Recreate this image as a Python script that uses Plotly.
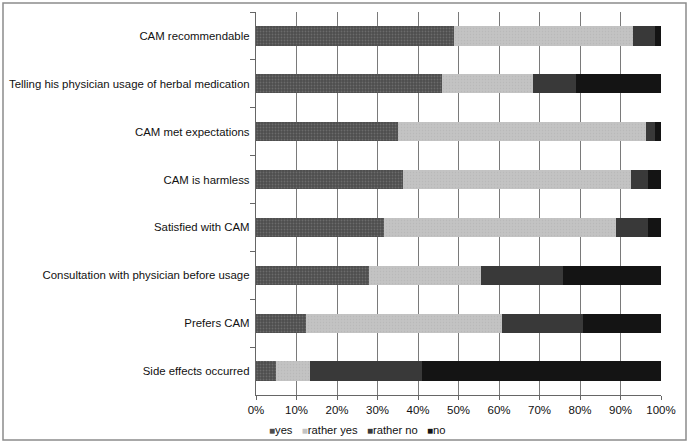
import plotly.graph_objects as go

categories = [
    "CAM recommendable",
    "Telling his physician usage of herbal medication",
    "CAM met expectations",
    "CAM is harmless",
    "Satisfied with CAM",
    "Consultation with physician before usage",
    "Prefers CAM",
    "Side effects occurred",
]
yes = [49.0, 45.9, 35.0, 36.3, 31.5, 27.8, 12.4, 4.9]
rather_yes = [44.0, 22.6, 61.2, 56.3, 57.5, 27.8, 48.4, 8.5]
rather_no = [5.5, 10.5, 2.3, 4.3, 7.9, 20.1, 20.0, 27.7]
no = [1.5, 21.0, 1.5, 3.1, 3.1, 24.3, 19.2, 58.9]
series_names = ["yes", "rather yes", "rather no", "no"]
series_colors = ["#4d4d4d", "#c3c3c3", "#393939", "#141414"]
x_ticks = [0, 10, 20, 30, 40, 50, 60, 70, 80, 90, 100]
x_tick_labels = [f"{t}%" for t in x_ticks]

fig = go.Figure()
patterns = [
    dict(shape=".", fgcolor="#8a8a8a", size=3, solidity=0.3),
    dict(shape=".", fgcolor="#b0b0b0", size=3, solidity=0.2),
    None,
    None,
]
for name, vals, col, pat in zip(series_names, [yes, rather_yes, rather_no, no], series_colors, patterns):
    marker = dict(color=col, line=dict(width=0))
    if pat:
        marker["pattern"] = pat
    fig.add_trace(go.Bar(
        y=categories, x=vals, name=name, orientation="h", marker=marker,
    ))

legend_text = "&nbsp;&nbsp;&nbsp;".join(
    f'<span style="color:{c};font-size:10px">■</span>{n}'
    for n, c in zip(series_names, series_colors)
)

fig.update_layout(
    width=689, height=443,
    barmode="stack", bargap=0.6,
    paper_bgcolor="white", plot_bgcolor="white",
    margin=dict(l=256, r=28, t=12, b=48, autoexpand=False),
    font=dict(family="Liberation Sans, Arial, sans-serif", size=12, color="#111"),
    showlegend=False,
    annotations=[dict(text=legend_text, xref="paper", yref="paper",
                      x=(357 - 256) / 405, y=(395 - 430) / 383,
                      xanchor="center", yanchor="middle", showarrow=False,
                      font=dict(size=11.2, color="#111"))],
    shapes=[dict(type="rect", xref="paper", yref="paper",
                 x0=(3 - 256) / 405, x1=(686 - 256) / 405,
                 y0=(395 - 440) / 383, y1=(395 - 3) / 383,
                 line=dict(color="#8c8c8c", width=1.5), layer="above",
                 fillcolor="rgba(0,0,0,0)")],
)
fig.update_xaxes(
    range=[0, 100], tickvals=x_ticks, ticktext=x_tick_labels,
    showgrid=True, gridcolor="#7a7a7a", gridwidth=1,
    showline=True, linecolor="#666", linewidth=1,
    ticks="outside", ticklen=4, tickcolor="#666",
    zeroline=False, tickfont=dict(size=11.5), automargin=False,
)
fig.update_yaxes(
    autorange="reversed", tickson="boundaries",
    showline=True, linecolor="#666", linewidth=1,
    ticks="outside", ticklen=5, tickcolor="#666",
    showgrid=False, tickfont=dict(size=11.4), ticksuffix=" ",
    automargin=False,
)

fig.write_html("out.html", config={"displayModeBar": False},
               post_script="document.body.style.margin='0';document.body.style.overflow='hidden';")
